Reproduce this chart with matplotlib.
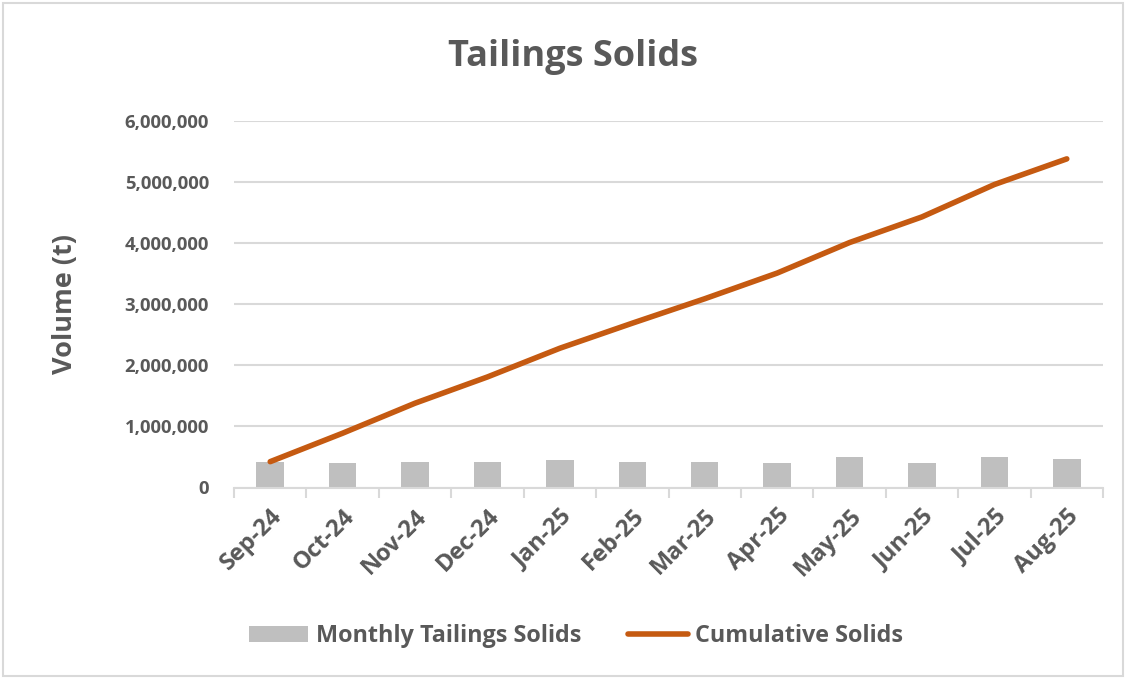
import matplotlib
matplotlib.use("Agg")
import matplotlib.pyplot as plt
from matplotlib.patches import Rectangle, Patch
from matplotlib.lines import Line2D
from matplotlib.ticker import FuncFormatter
import numpy as np

months = ["Sep-24", "Oct-24", "Nov-24", "Dec-24", "Jan-25", "Feb-25",
          "Mar-25", "Apr-25", "May-25", "Jun-25", "Jul-25", "Aug-25"]
monthly = [421000, 400000, 421000, 421000, 449000, 421000,
           421000, 400000, 497000, 400000, 497000, 470000]
cumulative = [423000, 889000, 1380000, 1810000, 2280000, 2690000,
              3090000, 3510000, 4010000, 4430000, 4960000, 5380000]

TEXT = "#595959"
BAR = "#BFBFBF"
LINE = "#C55A11"
GRID = "#D9D9D9"

plt.rcParams['font.family'] = ['Open Sans', 'DejaVu Sans']

fig = plt.figure(figsize=(11.26, 6.79), dpi=100)
fig.patches.append(Rectangle((3/1126, 3/679), 1120/1126, 673/679,
                             transform=fig.transFigure, fill=False,
                             edgecolor=GRID, linewidth=1.5))

ax = fig.add_axes([234/1126, 1-487.5/679, (1103-234)/1126, (487.5-121)/679])
x = np.arange(len(months))
ax.bar(x, monthly, width=0.38, color=BAR, zorder=2)
ax.plot(x, cumulative, color=LINE, linewidth=4.0, solid_capstyle='round', zorder=3)

ax.set_xlim(-0.5, len(months) - 0.5)
ax.set_ylim(0, 6000000)
ax.set_yticks(np.arange(0, 6000001, 1000000))
ax.yaxis.set_major_formatter(FuncFormatter(lambda v, p: f"{int(v):,}"))
ax.grid(axis='y', color=GRID, linewidth=1.5, zorder=0)
ax.set_axisbelow(True)
for s in ['top', 'right', 'left']:
    ax.spines[s].set_visible(False)
ax.spines['bottom'].set_color(GRID)
ax.spines['bottom'].set_linewidth(1.5)

ax.set_xticks(x)
ax.set_xticklabels(months, rotation=45, ha='right', va='top', rotation_mode='anchor',
                   fontsize=17, fontweight='bold', color=TEXT)
ax.tick_params(axis='x', which='major', length=0, pad=12)
ax.set_xticks(np.arange(-0.5, len(months)), minor=True)
ax.tick_params(axis='x', which='minor', length=7, width=1.5, color=GRID)
ax.tick_params(axis='y', length=0, pad=18, labelsize=13.3, labelcolor=TEXT)
for t in ax.get_yticklabels():
    t.set_fontweight('bold')

ax.set_ylabel("Volume (t)", fontsize=19.5, fontweight='bold', color=TEXT)
ax.yaxis.set_label_coords(-(234 - 78) / (1103 - 234), 0.5)

fig.text(573/1126, 1-57/679, "Tailings Solids", ha='center', va='center',
         fontsize=26, fontweight='bold', color=TEXT)

handles = [Patch(facecolor=BAR, edgecolor='none'),
           Line2D([0], [0], color=LINE, linewidth=4.0, solid_capstyle='round')]
fig.legend(handles, ["Monthly Tailings Solids", "Cumulative Solids"],
           loc='center', bbox_to_anchor=(576/1126, 1-636/679), ncol=2,
           frameon=False, handlelength=2.55, handleheight=0.68, handletextpad=0.34,
           columnspacing=2.0,
           prop={'size': 16.8, 'weight': 'bold'}, labelcolor=TEXT)

fig.savefig("out.png", dpi=100)
